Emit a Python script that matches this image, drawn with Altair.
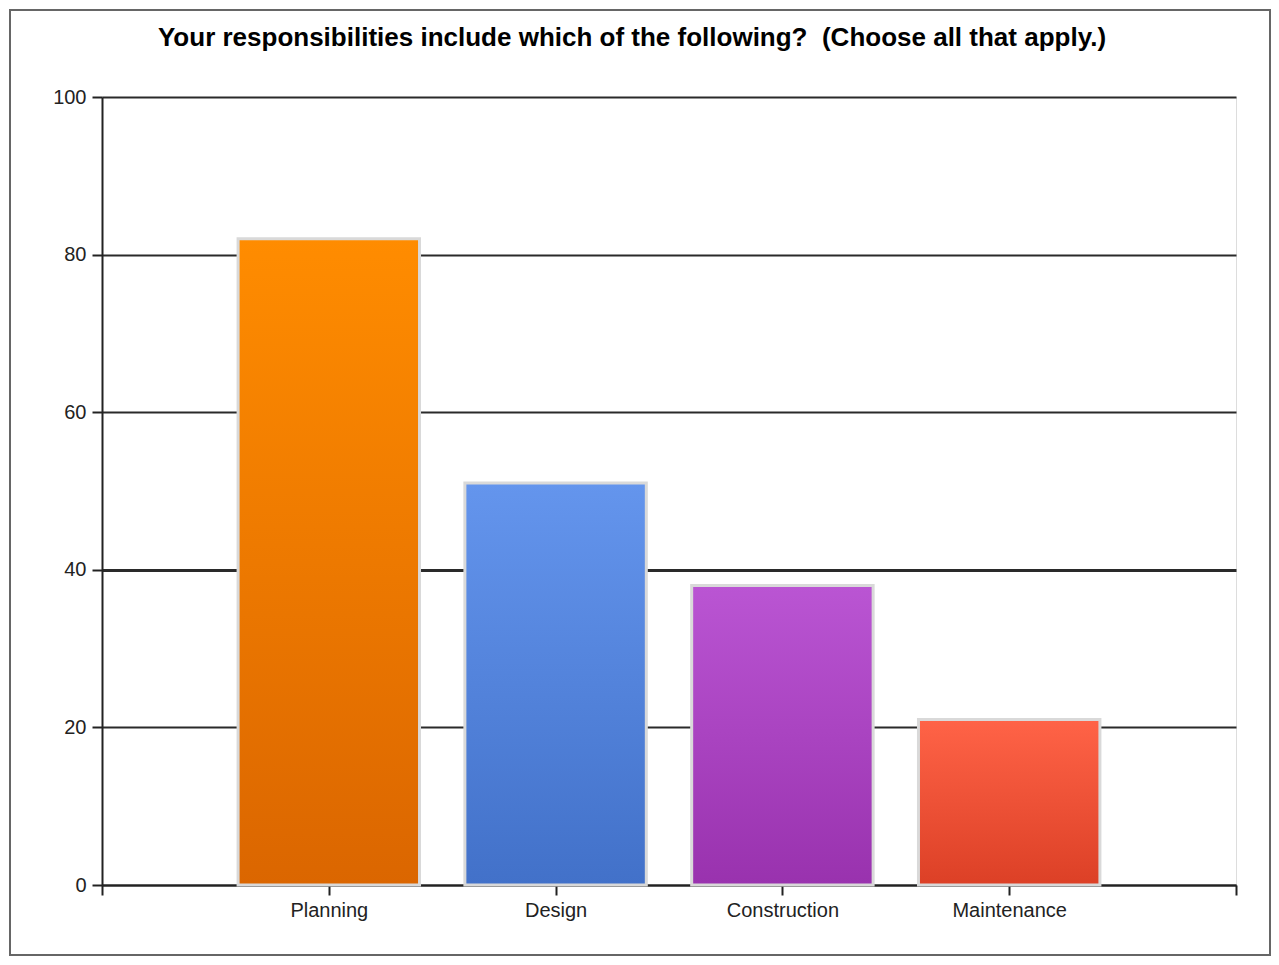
import altair as alt
import pandas as pd

# ---- data ----
categories = ["Planning", "Design", "Construction", "Maintenance"]
values = [82, 51, 38, 21]
top_colors = ["#FF8C00", "#6495ED", "#BA55D3", "#FF6347"]
bottom_colors = ["#DB6600", "#4271C9", "#9932AE", "#DC4026"]
y_ticks = [0, 20, 40, 60, 80, 100]
title_text = "Your responsibilities include which of the following?\u00a0 (Choose all that apply.)"

df = pd.DataFrame({
    "category": categories,
    "value": values,
    "pos": list(range(1, len(categories) + 1)),
})

W, H = 1134, 788
FONT = "Liberation Sans"
n = len(categories)
label_array = "[" + ",".join(["''"] + ["'" + c + "'" for c in categories] + ["''"]) + "]"

x_scale = alt.Scale(domain=[0, n + 1], nice=False, zero=True)
y_scale = alt.Scale(domain=[0, 100], nice=False)

x_axis = alt.Axis(
    values=list(range(0, n + 2)),
    labelExpr=label_array + "[datum.value]",
    title=None, grid=False, labelAngle=0, labelFlush=False, labelOverlap=False,
    tickSize=10, tickWidth=2, tickColor="#222222",
    domainColor="#222222", domainWidth=2,
    labelFont=FONT, labelFontSize=20, labelColor="#222222", labelPadding=5,
)
y_axis = alt.Axis(
    values=y_ticks, title=None, grid=True,
    gridColor="#2a2a2a",
    gridWidth={"condition": {"test": "datum.value === 40", "value": 3}, "value": 2},
    tickSize=10, tickWidth=2, tickColor="#222222",
    domainColor="#222222", domainWidth=2,
    labelFont=FONT, labelFontSize=20, labelColor="#222222", labelPadding=6,
)

frame = alt.Chart(pd.DataFrame({"k": [0]})).mark_rect(
    fill="white", fillOpacity=0, stroke="#666666", strokeWidth=2
).encode(
    x=alt.value(-92), x2=alt.value(W + 34), y=alt.value(-87), y2=alt.value(H + 70)
)

layers = [frame]
for i, c in enumerate(categories):
    grad = alt.Gradient(
        gradient="linear",
        stops=[alt.GradientStop(color=top_colors[i], offset=0),
               alt.GradientStop(color=bottom_colors[i], offset=1)],
        x1=0, x2=0, y1=0, y2=1,
    )
    layer = alt.Chart(df).transform_filter(
        alt.datum.category == c
    ).transform_calculate(
        x0="datum.pos - 0.4", x1="datum.pos + 0.4", base="0"
    ).mark_bar(
        fill=grad, stroke="#D9D9D9", strokeWidth=3
    ).encode(
        x=alt.X("x0:Q", scale=x_scale, axis=x_axis),
        x2="x1:Q",
        y=alt.Y("value:Q", scale=y_scale, axis=y_axis),
        y2="base:Q",
        tooltip=["category:N", "value:Q"],
    )
    layers.append(layer)

chart = alt.layer(*layers).properties(
    width=W, height=H,
    padding={"left": 94, "top": 89, "right": 35, "bottom": 72},
    autosize=alt.AutoSizeParams(type="none"),
    title=alt.TitleParams(
        text=title_text, font=FONT, fontSize=26, fontWeight="bold",
        color="#000000", anchor="middle", frame="group", baseline="alphabetic",
        dx=-37, offset=0, dy=63,
    ),
).configure_view(strokeWidth=0).configure(background="white")

chart.save("out.html", embed_options={"renderer": "svg", "actions": False})
